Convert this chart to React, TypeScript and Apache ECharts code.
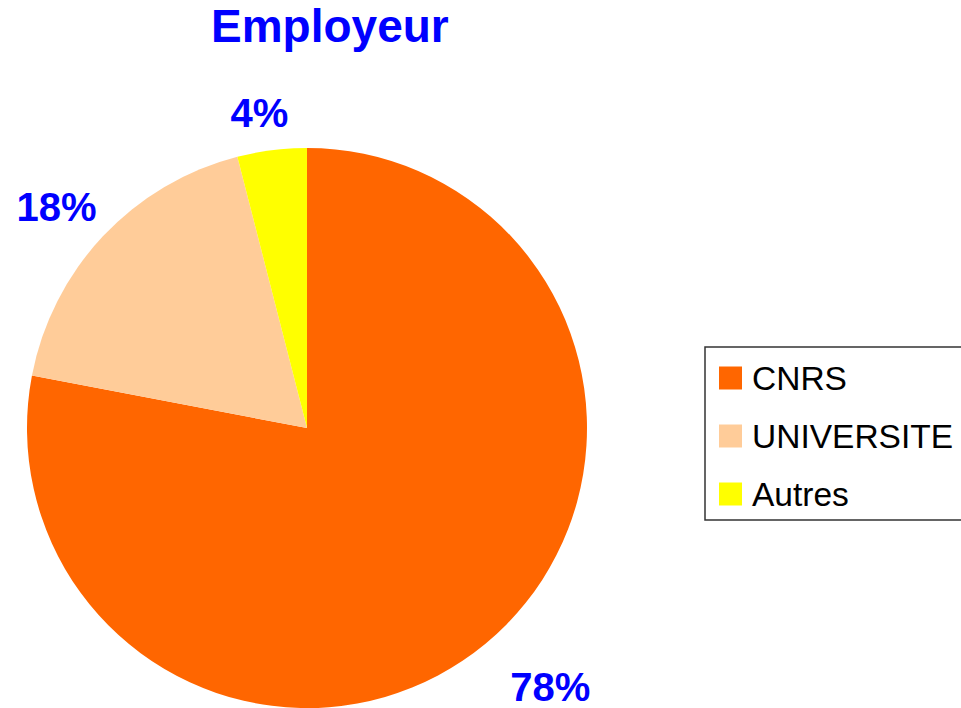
import React, { useEffect, useRef } from "react";
import * as echarts from "echarts";

const categories = ["CNRS", "UNIVERSITE", "Autres"];
const values = [78, 18, 4];
const colors = ["#FF6600", "#FFCC99", "#FFFF00"];
const labelLen = [56, 43, 37];
const labelLen2 = [-11, -25, -21];

export default function App() {
  const ref = useRef<HTMLDivElement>(null);
  useEffect(() => {
    const chart = echarts.init(ref.current!, null, { renderer: "svg" });
    chart.setOption({
      animation: false,
      backgroundColor: "#ffffff",
      title: {
        text: "Employeur",
        left: 211,
        top: 3,
        padding: 0,
        textStyle: {
          color: "#0000FF",
          fontSize: 46,
          fontWeight: "bold",
          fontFamily: "Liberation Sans, Arial, sans-serif",
        },
      },
      legend: {
        orient: "vertical",
        left: 705,
        top: 347,
        padding: [14, 40, 9, 14],
        itemWidth: 23,
        itemHeight: 23,
        itemGap: 24,
        icon: "rect",
        borderColor: "#333333",
        borderWidth: 1.5,
        data: categories,
        textStyle: {
          color: "#000000",
          fontSize: 33.5,
          fontFamily: "Liberation Sans, Arial, sans-serif",
          padding: [0, 0, 0, 5],
        },
      },
      series: [
        {
          type: "pie",
          center: [307, 428],
          radius: 280,
          startAngle: 90,
          clockwise: true,
          avoidLabelOverlap: false,
          itemStyle: { borderWidth: 0 },
          label: {
            show: true,
            position: "outside",
            formatter: "{c}%",
            color: "#0000FF",
            fontSize: 40,
            fontWeight: "bold",
            fontFamily: "Liberation Sans, Arial, sans-serif",
            distanceToLabelLine: 0,
          },
          labelLine: { show: false },
          emphasis: { disabled: true },
          data: categories.map((name, i) => ({
            name,
            value: values[i],
            itemStyle: { color: colors[i] },
            labelLine: { show: false, length: labelLen[i], length2: labelLen2[i] },
          })),
        },
      ],
    });
    return () => chart.dispose();
  }, []);
  return (
    <div
      ref={ref}
      style={{ position: "absolute", left: 0, top: 0, width: 961, height: 708 }}
    />
  );
}
